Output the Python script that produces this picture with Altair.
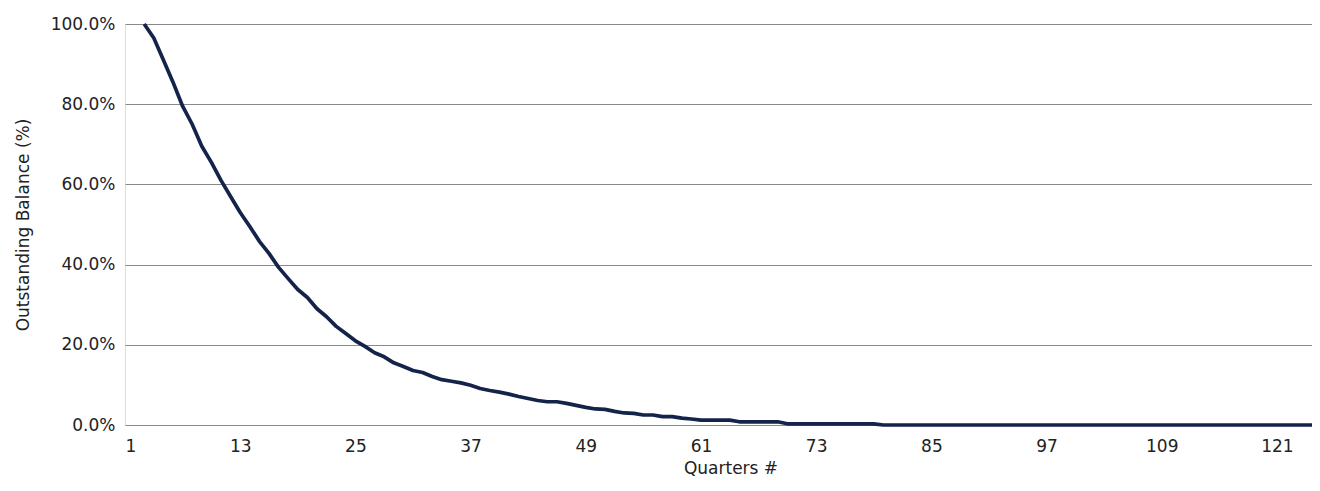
import altair as alt
import pandas as pd

quarters = list(range(3, 126))
balance = [
    100, 96.5, 91, 85.5, 79.5, 75, 69.5, 65.5, 61, 57,
    53, 49.5, 45.8, 42.8, 39.3, 36.5, 33.8, 31.8, 29, 27,
    24.6, 22.8, 21, 19.6, 18, 17, 15.5, 14.6, 13.6, 13.1,
    12.1, 11.3, 10.9, 10.5, 9.9, 9.1, 8.6, 8.2, 7.7, 7.1,
    6.6, 6.1, 5.8, 5.8, 5.4, 4.9, 4.4, 4.0, 3.9, 3.4,
    3.0, 2.9, 2.5, 2.5, 2.1, 2.1, 1.7, 1.5, 1.2, 1.2,
    1.2, 1.2, 0.8, 0.8, 0.8, 0.8, 0.8, 0.3, 0.3, 0.3,
    0.3, 0.3, 0.3, 0.3, 0.3, 0.3, 0.3,
    0, 0, 0, 0, 0, 0, 0, 0, 0, 0,
    0, 0, 0, 0, 0, 0, 0, 0, 0, 0,
    0, 0, 0, 0, 0, 0, 0, 0, 0, 0,
    0, 0, 0, 0, 0, 0, 0, 0, 0, 0,
    0, 0, 0, 0, 0, 0,
]
x_ticks = [1, 13, 25, 37, 49, 61, 73, 85, 97, 109, 121]
y_ticks = [0, 20, 40, 60, 80, 100]

df = pd.DataFrame({"quarter": quarters, "balance": balance})

FONT = "DejaVu Sans"
W, H = 1187, 401

chart = (
    alt.Chart(df)
    .mark_line(color="#13234a", strokeWidth=3.7, strokeJoin="round")
    .encode(
        x=alt.X(
            "quarter:Q",
            scale=alt.Scale(domain=[1, 124.65], nice=False, zero=False),
            axis=alt.Axis(
                values=x_ticks,
                grid=False,
                domain=False,
                ticks=False,
                labelPadding=13,
                labelFont=FONT,
                labelFontSize=17,
                labelColor="#222222",
                title="Quarters #",
                titleFont=FONT,
                titleFontSize=17,
                titleFontWeight="normal",
                titleColor="#222222",
                titleX=W / 2 + 12,
                titleY=48,
                titleBaseline="alphabetic",
            ),
        ),
        y=alt.Y(
            "balance:Q",
            scale=alt.Scale(domain=[0, 100], nice=False),
            axis=alt.Axis(
                values=y_ticks,
                labelExpr="format(datum.value, '.1f') + '%'",
                grid=True,
                gridColor="#8a8a8a",
                gridWidth=1.2,
                domain=False,
                ticks=False,
                labelPadding=10,
                labelFont=FONT,
                labelFontSize=17,
                labelColor="#222222",
                title="Outstanding Balance (%)",
                titleFont=FONT,
                titleFontSize=17,
                titleFontWeight="normal",
                titleColor="#222222",
                titleAngle=270,
                titleX=-102,
                titleY=H / 2,
                titleBaseline="middle",
                titleAlign="center",
            ),
        ),
    )
    .properties(
        width=W,
        height=H,
        autosize=alt.AutoSizeParams(type="none"),
        padding={"left": 117, "top": 16, "right": 0, "bottom": 53},
    )
    .configure_view(stroke=None)
    .configure(background="white")
)

chart.save("out.html", embed_options={"renderer": "svg", "actions": False})
